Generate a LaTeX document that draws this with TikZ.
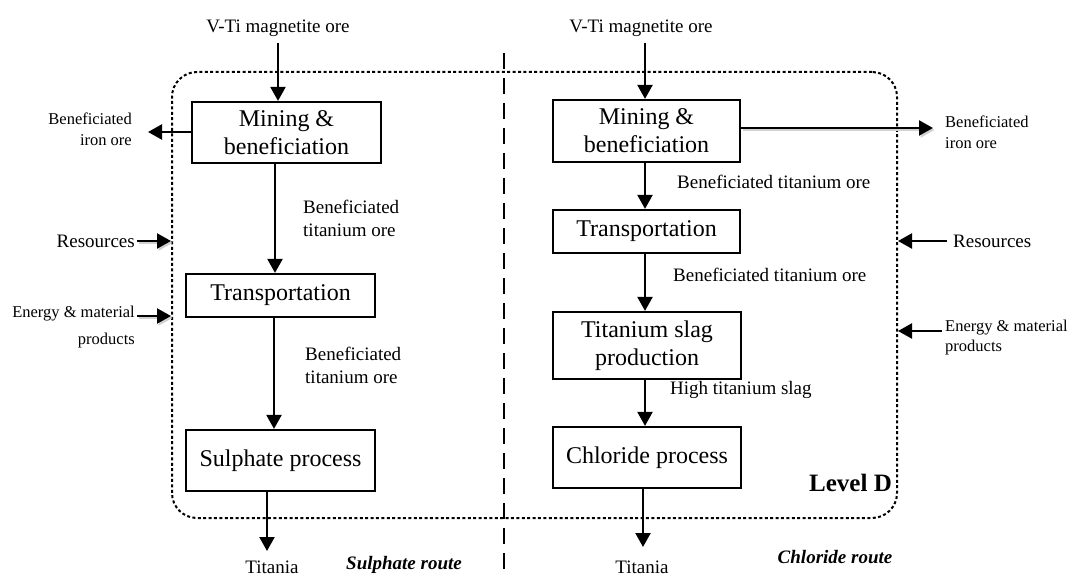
\documentclass[tikz,border=0pt]{standalone}
\usepackage{fontspec}
\setmainfont{Liberation Serif}
\usetikzlibrary{arrows.meta}
\begin{document}
\begin{tikzpicture}[x=1pt,y=-1pt,
  proc/.style={draw, line width=2.2pt, minimum width=189pt, inner sep=0pt, align=center,
    font=\fontsize{24}{28}\selectfont},
  flow/.style={line width=2.2pt, -{Triangle[length=14pt,width=15pt]}},
  lbl/.style={inner sep=0pt, font=\fontsize{19}{23}\selectfont},
  side/.style={inner sep=0pt, font=\fontsize{16.5}{21}\selectfont},
  bigside/.style={inner sep=0pt, font=\fontsize{19}{23}\selectfont},
  route/.style={inner sep=0pt, font=\fontsize{19}{23}\selectfont\bfseries\itshape},
  shade/.style={preaction={draw=black!18, line width=2.4pt,
    transform canvas={shift={(1.5pt,-2pt)}}}},
  boundary/.style={draw, line width=2pt, dash pattern=on 3pt off 2.4pt,
    rounded corners=25pt, inner sep=0pt},
  divider/.style={line width=1.8pt, dash pattern=on 16pt off 9pt}
]
\useasboundingbox (0,0) rectangle (1078,577);

% system boundary (Level D) and route divider
\node[boundary, minimum width=725pt, minimum height=446pt] (frame) at (534.5,295) {};
\coordinate (dtop) at (504,53);
\coordinate (dbot) at (504,577);
\draw[divider] (dtop) -- (dbot);

% ---------------- sulphate route ----------------
\node[lbl] (oreL) at (278,28) {V-Ti magnetite ore};
\node[proc, minimum height=61pt] (L1) at (286.5,132.5) {Mining \&\\beneficiation};
\node[proc, minimum height=43pt] (L2) at (280.5,295.5) {Transportation};
\node[proc, minimum height=61pt] (L3) at (280.5,460.5) {Sulphate process};

\node[lbl, anchor=west, align=left] (bt1) at (303,218.5) {Beneficiated\\titanium ore};
\node[lbl, anchor=west, align=left] (bt2) at (305,365.5) {Beneficiated\\titanium ore};
\node[lbl] (titL) at (272,567) {Titania};
\node[route] (sulR) at (404,565) {Sulphate route};

\node[side, anchor=east, align=right] (ironL) at (132,129) {Beneficiated\\iron ore};
\node[bigside, anchor=east] (resL) at (135,241) {Resources};
\node[side, anchor=north east, align=right, font=\fontsize{16.5}{27}\selectfont] (enL) at (135,306) {Energy \& material\\products};

\coordinate (ironLtip) at (148,132);
\coordinate (titLtip) at (267,551);
\coordinate (enLs) at (137,316);

\draw[flow] ([yshift=-6pt]oreL.south) -- (oreL.south |- L1.north);
\draw[flow] ([yshift=0.5pt]L1.west) -- (ironLtip);
\draw[flow] ([xshift=-11.5pt]L1.south) -- ([xshift=-5.5pt]L2.north);
\draw[flow] ([xshift=-6.5pt]L2.south) -- ([xshift=-6.5pt]L3.north);
\draw[flow] ([xshift=-13.5pt]L3.south) -- (titLtip);
\draw[flow, shade] ([xshift=2pt]resL.east) -- (resL.east -| frame.west);
\draw[flow, shade] (enLs) -- (enLs -| frame.west);

% ---------------- chloride route ----------------
\node[lbl] (oreR) at (641,28) {V-Ti magnetite ore};
\node[proc, minimum width=187pt, minimum height=62pt] (R1) at (646.5,131) {Mining \&\\beneficiation};
\node[proc, minimum width=187pt, minimum height=43pt] (R2) at (646.5,231.5) {Transportation};
\node[proc, minimum width=188pt, minimum height=67pt] (R3) at (647,345.5) {Titanium slag\\production};
\node[proc, minimum width=188pt, minimum height=61pt] (R4) at (647,457.5) {Chloride process};

\node[lbl, anchor=west] (bt3) at (677,182) {Beneficiated titanium ore};
\node[lbl, anchor=west] (bt4) at (673,275) {Beneficiated titanium ore};
\node[lbl, anchor=west] (hts) at (670,390) {High titanium slag};
\node[lbl] (titR) at (642,567) {Titania};
\node[route] (chlR) at (835,557) {Chloride route};
\node[anchor=east, inner sep=0pt, font=\fontsize{25}{30}\selectfont\bfseries] (lvl) at (892,483) {Level D};

\node[side, anchor=west, align=left] (ironR) at (945,132.5) {Beneficiated\\iron ore};
\node[bigside, anchor=west] (resR) at (953,241) {Resources};
\node[side, anchor=north west, align=left, font=\fontsize{16.5}{20}\selectfont] (enR) at (945,320) {Energy \& material\\products};

\coordinate (ironRtip) at (933,128);
\coordinate (titRtip) at (643,547);
\coordinate (enRs) at (942,331);

\draw[flow] ([xshift=4pt,yshift=-6pt]oreR.south) -- ([xshift=-1.5pt]R1.north);
\draw[flow, shade] ([yshift=3pt]R1.east) -- (ironRtip);
\draw[flow] ([xshift=-1.5pt]R1.south) -- ([xshift=-1.5pt]R2.north);
\draw[flow] ([xshift=-1.5pt]R2.south) -- ([xshift=-2pt]R3.north);
\draw[flow] ([xshift=-2pt]R3.south) -- ([xshift=-2pt]R4.north);
\draw[flow] ([xshift=-4pt]R4.south) -- (titRtip);
\draw[flow] ([xshift=-6pt]resR.west) -- (resR.west -| frame.east);
\draw[flow] (enRs) -- (enRs -| frame.east);
\end{tikzpicture}
\end{document}
